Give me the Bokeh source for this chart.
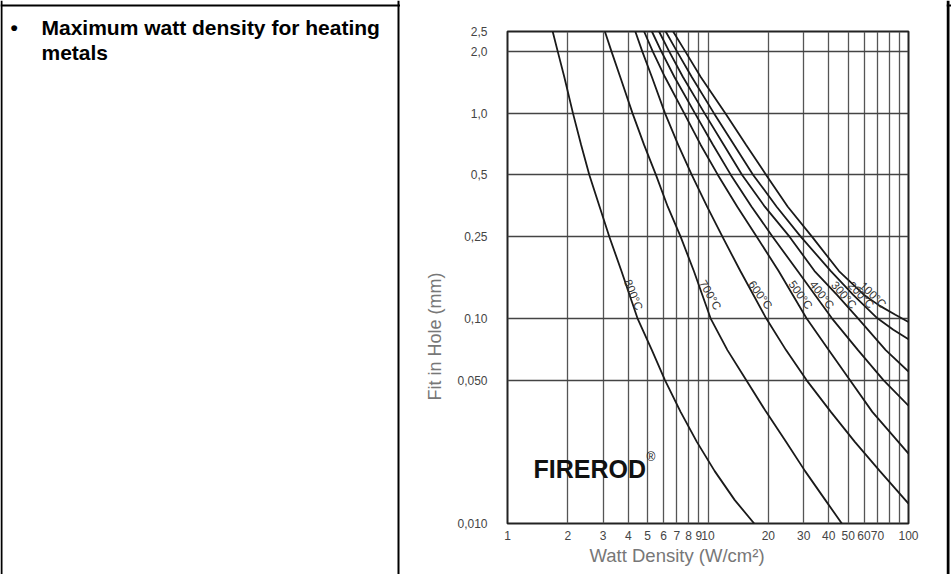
import math
import numpy as np
from bokeh.plotting import figure
from bokeh.layouts import row, column
from bokeh.models import Range1d, FixedTicker, Label, Title, ColumnDataSource
from bokeh.core.properties import value
from bokeh.embed import file_html
from bokeh.resources import INLINE

# ---------------- data ----------------
curve_names = ["800°C", "700°C", "600°C", "500°C", "400°C", "300°C", "200°C", "100°C"]

y_800 = [2.5, 2.0, 1.5, 1.0, 0.7, 0.5, 0.35, 0.25, 0.17, 0.10, 0.07, 0.05, 0.035, 0.025, 0.018, 0.013, 0.010]
x_800 = [1.68, 1.78, 1.92, 2.12, 2.33, 2.56, 2.88, 3.22, 3.7, 4.45, 5.25, 6.1, 7.3, 8.8, 10.8, 13.6, 17.0]

y_700 = [2.5, 2.0, 1.5, 1.0, 0.7, 0.5, 0.35, 0.25, 0.17, 0.10, 0.07, 0.05, 0.035, 0.025, 0.018, 0.013, 0.010]
x_700 = [3.06, 3.3, 3.65, 4.2, 4.8, 5.5, 6.3, 7.3, 8.5, 10.3, 12.5, 15.5, 19.5, 24.5, 30.5, 38.5, 46.5]

y_600 = [2.5, 2.0, 1.5, 1.0, 0.7, 0.5, 0.35, 0.25, 0.17, 0.10, 0.07, 0.05, 0.035, 0.025, 0.018, 0.0125]
x_600 = [4.34, 4.7, 5.25, 6.1, 7.1, 8.3, 9.9, 11.8, 14.5, 19.5, 24.5, 31, 41, 54, 72, 100]

y_500 = [2.5, 2.0, 1.5, 1.0, 0.7, 0.5, 0.35, 0.25, 0.17, 0.10, 0.07, 0.05, 0.035, 0.025, 0.0219]
x_500 = [4.8, 5.3, 6.1, 7.6, 9.2, 11.2, 14.0, 17.5, 22.5, 31, 40, 51, 66, 89, 100]

y_400 = [2.5, 2.0, 1.5, 1.0, 0.7, 0.5, 0.35, 0.25, 0.17, 0.10, 0.07, 0.05, 0.0375]
x_400 = [5.25, 5.85, 6.8, 8.6, 10.6, 13.0, 16.5, 21, 28, 41.5, 56, 75, 100]

y_300 = [2.5, 2.0, 1.5, 1.0, 0.7, 0.5, 0.35, 0.25, 0.17, 0.13, 0.10, 0.07, 0.055]
x_300 = [5.7, 6.4, 7.5, 9.6, 12.0, 14.8, 19.2, 25.5, 34, 44, 56, 77, 100]

y_200 = [2.5, 2.0, 1.5, 1.0, 0.7, 0.5, 0.35, 0.25, 0.17, 0.13, 0.10, 0.088, 0.079]
x_200 = [6.15, 7.0, 8.3, 10.7, 13.5, 16.8, 22, 29, 41, 53, 70, 84, 100]

y_100 = [2.5, 2.0, 1.5, 1.0, 0.7, 0.5, 0.35, 0.25, 0.17, 0.13, 0.115, 0.104, 0.096]
x_100 = [6.7, 7.7, 9.2, 12.2, 15.5, 19.5, 25, 33, 45, 60, 72, 86, 100]

x_ticks = [1, 2, 3, 4, 5, 6, 7, 8, 9, 10, 20, 30, 40, 50, 60, 70, 80, 90, 100]
x_tick_labels = ["1", "2", "3", "4", "5", "6", "7", "8", "9", "10", "20", "30", "40", "50", "60", "70", "", "", "100"]
y_ticks = [0.010, 0.050, 0.10, 0.25, 0.5, 1.0, 2.0, 2.5]
y_tick_labels = ["0,010", "0,050", "0,10", "0,25", "0,5", "1,0", "2,0", "2,5"]

title_line1 = "Maximum watt density for heating"
title_line2 = "metals"
x_title = "Watt Density (W/cm²)"
y_title = "Fit in Hole (mm)"
brand = "FIREROD"
brand_mark = "®"

curves_x = [x_800, x_700, x_600, x_500, x_400, x_300, x_200, x_100]
curves_y = [y_800, y_700, y_600, y_500, y_400, y_300, y_200, y_100]

# ---------------- styles / layout ----------------
FONT = "Liberation Sans"
label_level = 0.13
label_dx = [4, 8, 7, 8, 7, 7, 8, 9]
label_angle = [-68, -60, -54, -54, -52, -49, -47, -44]

W, H = 951, 574
LW, RW, TH = 400, 5, 8
PW, PH = W - LW - RW, H - TH


def strip(w, h):
    f = figure(width=w, height=h, output_backend="svg", toolbar_location=None,
               x_range=Range1d(0, w), y_range=Range1d(h, 0),
               x_axis_location=None, y_axis_location=None, min_border=0,
               outline_line_color=None, background_fill_color="white",
               border_fill_color="white")
    f.xgrid.visible = False
    f.ygrid.visible = False
    return f


def bar(f, l, r, t, b):
    f.quad(left=[l], right=[r], top=[t], bottom=[b], fill_color="black", line_color=None)


# left table cell
L = strip(LW, H)
bar(L, 0, 2, 0, H)
bar(L, 0, LW, 4, 6)
bar(L, 397, 399, 0, H)
for txt, x, y in (("•", 10, 27), (title_line1, 41, 27), (title_line2, 41, 52)):
    L.add_layout(Label(text=txt, x=x, y=y, text_font=FONT, text_font_size="21px",
                       text_font_style="bold", text_color="black",
                       text_align="left", text_baseline="alphabetic"))

# top border above the chart, right border
T = strip(PW, TH)
bar(T, 0, PW, 4, 6)
R = strip(RW, H)
bar(R, 0, 3, 0, H)
bar(R, 0, RW, 4, 6)

# chart
p = figure(width=PW, height=PH, x_axis_type="log", y_axis_type="log",
           x_range=Range1d(1, 100), y_range=Range1d(0.01, 2.5),
           output_backend="svg", toolbar_location=None,
           min_border_left=107, min_border_right=38, min_border_top=23, min_border_bottom=51,
           background_fill_color="white", border_fill_color="white")

xt = FixedTicker(ticks=x_ticks)
yt = FixedTicker(ticks=y_ticks)
p.xaxis.ticker = xt
p.yaxis.ticker = yt
p.xgrid.ticker = xt
p.ygrid.ticker = yt
p.xaxis.major_label_overrides = {t: s for t, s in zip(x_ticks, x_tick_labels)}
p.yaxis.major_label_overrides = {t: s for t, s in zip(y_ticks, y_tick_labels)}

for ax in (p.xaxis, p.yaxis):
    ax.axis_line_color = None
    ax.major_tick_line_color = None
    ax.minor_tick_line_color = None
    ax.major_tick_out = 0
    ax.major_tick_in = 0
    ax.major_label_text_font = FONT
    ax.major_label_text_font_size = "12px"
    ax.major_label_text_color = "#444444"
p.yaxis.major_label_standoff = 20
p.xaxis.major_label_standoff = 7

p.xgrid.grid_line_color = "#555555"
p.xgrid.grid_line_width = 1.3
p.ygrid.grid_line_color = "#444444"
p.ygrid.grid_line_width = 1.5
p.outline_line_color = "#222222"
p.outline_line_width = 2

for xs, ys in zip(curves_x, curves_y):
    p.line(xs, ys, line_color="#1a1a1a", line_width=1.8)

# curve labels anchored on each curve
lx, ly = [], []
for xs, ys in zip(curves_x, curves_y):
    lys = np.log10(ys)[::-1]
    lxs = np.log10(xs)[::-1]
    lx.append(10 ** np.interp(math.log10(label_level), lys, lxs))
    ly.append(label_level)
src = ColumnDataSource(dict(x=lx, y=ly, t=curve_names, a=label_angle, dx=label_dx))
p.text(x="x", y="y", text="t", angle="a", angle_units="deg", x_offset="dx", source=src,
       text_align="center", text_baseline="middle", text_font=value(FONT),
       text_font_size="11.5px", text_color="#333333")

# axis titles
p.add_layout(Title(text=x_title, align="left", offset=82, standoff=0,
                   text_font=FONT, text_font_size="18.5px", text_font_style="normal",
                   text_color="#777777"), "below")
p.add_layout(Title(text=y_title, align="left", offset=123, standoff=19,
                   text_font=FONT, text_font_size="18px", text_font_style="normal",
                   text_color="#777777"), "left")

# brand
p.add_layout(Label(text=brand, x=133, y=460, x_units="canvas", y_units="canvas",
                   text_font=FONT, text_font_size="25px", text_font_style="bold",
                   text_color="#111111", text_align="left", text_baseline="alphabetic"))
p.add_layout(Label(text=brand_mark, x=246, y=448, x_units="canvas", y_units="canvas",
                   text_font=FONT, text_font_size="12px",
                   text_color="#111111", text_align="left", text_baseline="alphabetic"))

layout = row(L, column(T, p), R)
open("out.html", "w").write(file_html(layout, INLINE))
